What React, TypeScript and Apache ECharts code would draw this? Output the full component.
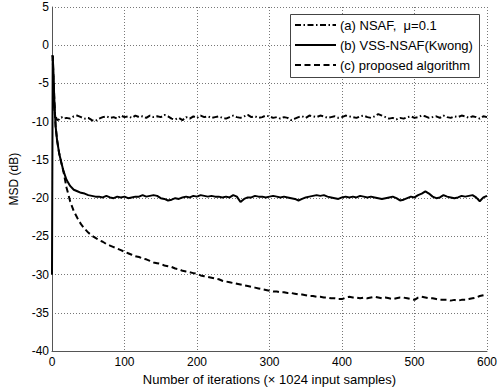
import React, { useEffect, useRef } from "react";
import * as echarts from "echarts";

const iterations = [
  0, 1, 2, 3, 4, 5, 7, 10, 13, 16, 20,
  25, 30, 35, 40, 45, 50, 55, 60, 65, 70,
  75, 80, 85, 90, 95, 100, 105, 110, 115, 120,
  125, 130, 135, 140, 145, 150, 155, 160, 165, 170,
  175, 180, 185, 190, 195, 200, 205, 210, 215, 220,
  225, 230, 235, 240, 245, 250, 255, 260, 265, 270,
  275, 280, 285, 290, 295, 300, 305, 310, 315, 320,
  325, 330, 335, 340, 345, 350, 355, 360, 365, 370,
  375, 380, 385, 390, 395, 400, 405, 410, 415, 420,
  425, 430, 435, 440, 445, 450, 455, 460, 465, 470,
  475, 480, 485, 490, 495, 500, 505, 510, 515, 520,
  525, 530, 535, 540, 545, 550, 555, 560, 565, 570,
  575, 580, 585, 590, 595, 600,
];

const nsaf = [
  -1.5, -1.4, -5.2, -7.8, -9.1, -9.3, -9.8, -9.7, -9.4, -9.6, -9.5,
  -9.6, -9.3, -9.2, -9.4, -9.6, -9.5, -9.8, -9.9, -9.6, -9.4,
  -9.3, -9.5, -9.4, -9.6, -9.2, -9.4, -9.3, -9.5, -9.2, -9.4,
  -9.3, -9.5, -9.2, -9.4, -9.3, -9.4, -9.1, -9.3, -9.6, -9.7,
  -9.5, -9.8, -9.4, -9.6, -9.3, -9.5, -9.2, -9.4, -9.3, -9.5,
  -9.4, -9.3, -9.5, -9.6, -9.4, -9.2, -9.4, -9.5, -9.3, -9.1,
  -9.4, -9.3, -9.5, -9.4, -9.2, -9.3, -9.5, -9.4, -9.6, -9.4,
  -9.5, -9.8, -9.6, -9.4, -9.3, -9.5, -9.2, -9.3, -9.4, -9.2,
  -9.3, -9.5, -9.4, -9.3, -9.5, -9.4, -9.2, -9.3, -9.4, -9.5,
  -9.3, -9.2, -9.4, -9.5, -9.3, -9.0, -9.2, -9.4, -9.6, -9.5,
  -9.7, -9.5, -9.6, -9.4, -9.3, -9.5, -9.4, -9.2, -9.3, -9.5,
  -9.4, -9.3, -9.5, -9.2, -9.4, -9.5, -9.3, -9.4, -9.2, -9.3,
  -9.5, -9.3, -9.4, -9.6, -9.3, -9.4,
];

const vssNsaf = [
  -30, -1.3, -3.8, -6.6, -8.8, -10.6, -12.4, -14.2, -15.4, -16.5, -17.6,
  -18.4, -18.9, -19.1, -19.3, -19.4, -19.6, -19.7, -19.8, -19.8, -19.9,
  -19.7, -19.9, -20.0, -19.8, -19.9, -19.8, -20.0, -19.9, -19.8, -19.8,
  -19.6, -19.8, -19.7, -19.6, -19.7, -20.0, -20.1, -20.3, -20.2, -20.0,
  -20.1, -19.9, -19.8, -19.9, -19.7, -19.8, -19.6, -19.7, -19.8, -19.7,
  -19.8, -19.8, -19.9, -19.8, -19.9, -19.6, -19.8, -20.5, -20.1, -19.9,
  -19.9, -19.7, -19.8, -19.8, -19.9, -19.8, -19.7, -19.8, -19.9, -19.8,
  -19.9, -20.0, -20.1, -20.3, -20.1, -19.9, -19.8, -19.7, -19.6, -19.7,
  -19.6, -19.8, -19.9, -20.0, -20.1, -19.9, -19.8, -19.9, -19.8, -19.9,
  -19.7, -19.8, -19.9, -19.8, -19.9, -20.0, -20.1, -20.0, -19.9, -19.8,
  -20.0, -20.3, -20.2, -20.0, -19.8, -19.9, -19.6, -19.4, -19.1, -19.4,
  -19.8, -20.0, -19.9, -19.6, -19.8, -19.9, -20.0, -19.9, -19.7, -19.8,
  -19.7, -19.6, -19.9, -20.4, -19.9, -19.7,
];

const proposed = [
  -1.5, -1.4, -4.0, -6.6, -8.8, -10.6, -12.4, -14.2, -15.4, -16.6, -18.6,
  -20.4, -21.7, -22.6, -23.4, -24.0, -24.5, -24.9, -25.2, -25.5, -25.7,
  -26.0, -26.2, -26.4, -26.6, -26.8, -27.0, -27.2, -27.4, -27.6, -27.7,
  -27.9, -28.0, -28.2, -28.4, -28.5, -28.6, -28.8, -28.9, -29.0, -29.2,
  -29.3, -29.5, -29.6, -29.7, -29.8, -29.9, -30.1, -30.2, -30.3, -30.4,
  -30.5, -30.6, -30.8, -30.9, -31.0, -31.1, -31.2, -31.3, -31.4, -31.5,
  -31.6, -31.7, -31.8, -31.9, -32.0, -32.1, -32.2, -32.2, -32.3, -32.3,
  -32.4, -32.4, -32.5, -32.6, -32.6, -32.7, -32.8, -32.8, -32.9, -32.9,
  -33.0, -33.0, -33.1, -33.1, -33.2, -33.2, -33.0, -32.9, -33.0, -33.0,
  -33.1, -33.0, -33.1, -33.0, -32.9, -33.0, -33.1, -33.0, -33.1, -33.2,
  -33.1, -33.0, -33.0, -33.1, -33.2, -33.3, -33.0, -32.9, -33.0, -33.1,
  -33.1, -33.2, -33.3, -33.3, -33.3, -33.4, -33.3, -33.4, -33.3, -33.3,
  -33.2, -33.1, -33.0, -32.8, -32.7, -32.6,
];

const legendLabels = [
  "(a) NSAF,  \u03bc=0.1",
  "(b) VSS-NSAF(Kwong)",
  "(c) proposed algorithm",
];

const FONT = "'Liberation Sans', Arial, sans-serif";
const DASHDOT = [6, 2.5, 1.5, 2.5];
const DASHED = [6, 3.5];

export default function App() {
  const ref = useRef<HTMLDivElement>(null);
  useEffect(() => {
    if (!ref.current) return;
    const chart = echarts.init(ref.current, null, { renderer: "svg" });
    const pair = (vals: number[]) => iterations.map((x, i) => [x, vals[i]]);
    const lineTypes: any[] = [DASHDOT, "solid", DASHED];
    const legendY = [25, 45, 65];
    chart.setOption({
      animation: false,
      backgroundColor: "#fff",
      textStyle: { fontFamily: FONT },
      grid: { left: 47, right: 13, top: 7, bottom: 39, containLabel: false },
      xAxis: {
        type: "value",
        min: 0,
        max: 600,
        interval: 100,
        name: "Number of iterations (\u00d7 1024 input samples)",
        nameLocation: "middle",
        nameGap: 20,
        nameTextStyle: { fontSize: 13, color: "#000", fontFamily: FONT },
        axisLine: { show: true, onZero: false, lineStyle: { color: "#555", width: 1 } },
        axisTick: { show: false },
        axisLabel: { fontSize: 12, color: "#000", margin: 5, fontFamily: FONT },
        splitLine: { show: true, lineStyle: { color: "#777", width: 1, type: [1, 2] } },
      },
      yAxis: {
        type: "value",
        min: -40,
        max: 5,
        interval: 5,
        name: "MSD (dB)",
        nameLocation: "middle",
        nameGap: 32,
        nameTextStyle: { fontSize: 12, color: "#000", fontFamily: FONT },
        axisLine: { show: true, onZero: false, lineStyle: { color: "#555", width: 1 } },
        axisTick: { show: false },
        axisLabel: { fontSize: 12, color: "#000", margin: 3, fontFamily: FONT },
        splitLine: { show: true, lineStyle: { color: "#777", width: 1, type: [1, 2] } },
      },
      series: [nsaf, vssNsaf, proposed].map((vals, k) => ({
        type: "line",
        name: legendLabels[k],
        data: pair(vals),
        showSymbol: false,
        symbol: "none",
        lineStyle: { color: "#000", width: 2, type: lineTypes[k] },
        z: 3 - k,
      })),
      graphic: [
        {
          type: "rect",
          shape: { x: 290.5, y: 14.5, width: 189, height: 63 },
          style: { fill: "#fff", stroke: "#444", lineWidth: 1 },
          z: 100,
        },
        ...legendLabels.flatMap((label, k) => [
          {
            type: "line",
            shape: { x1: 295, y1: legendY[k], x2: 336, y2: legendY[k] },
            style: {
              stroke: "#000",
              lineWidth: 2,
              lineDash: k === 1 ? null : k === 0 ? DASHDOT : DASHED,
            },
            z: 101,
          },
          {
            type: "text",
            x: 340,
            y: legendY[k],
            style: {
              text: label,
              fill: "#000",
              font: `13px ${FONT}`,
              verticalAlign: "middle",
              align: "left",
            },
            z: 101,
          },
        ]),
      ],
    });
    return () => chart.dispose();
  }, []);
  return (
    <div
      ref={ref}
      style={{ position: "fixed", left: 0, top: 0, width: 500, height: 391 }}
    />
  );
}
